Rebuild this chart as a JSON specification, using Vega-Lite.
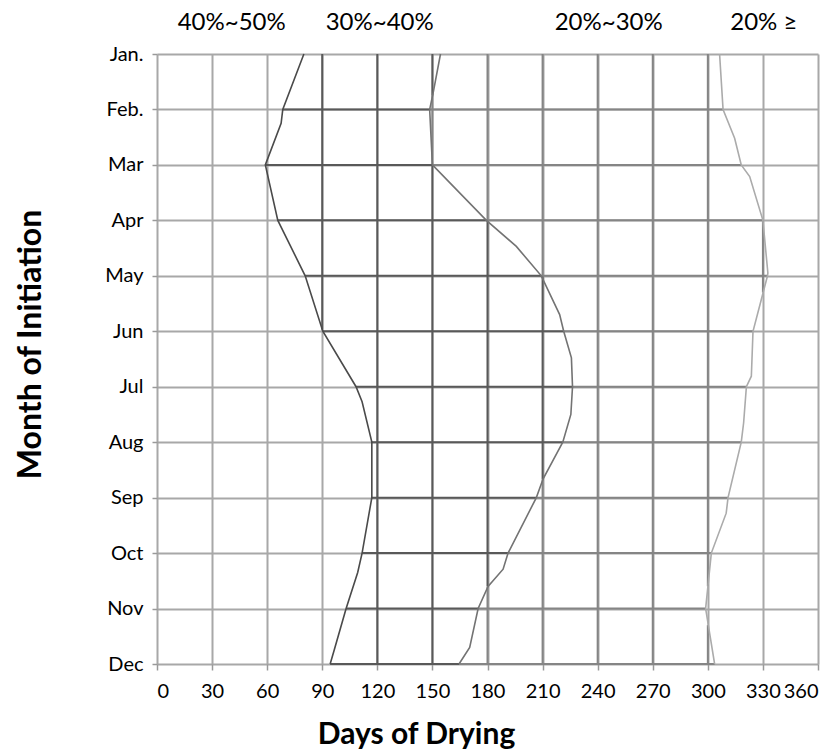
{
  "$schema": "https://vega.github.io/schema/vega-lite/v6.json",
  "width": 661,
  "height": 610,
  "autosize": {"type": "none"},
  "padding": {"left": 157, "top": 54, "right": 22, "bottom": 91},
  "background": "white",
  "config": {
    "view": {"stroke": null},
    "font": "Lato",
    "axis": {
      "gridColor": "#a8a8a8",
      "gridWidth": 2,
      "domain": false,
      "tickColor": "#999999",
      "tickWidth": 1.5,
      "labelColor": "#000000",
      "titleColor": "#000000",
      "labelFont": "Lato",
      "titleFont": "Lato",
      "labelFontSize": 20,
      "labelFontWeight": "normal",
      "titleFontSize": 30,
      "titleFontWeight": "bold"
    }
  },
  "resolve": {"scale": {"stroke": "independent"}},
  "datasets": {
    "curves": [
      {"series": "A", "m": 1, "d": 80},
      {"series": "A", "m": 2, "d": 68.5},
      {"series": "A", "m": 2.25, "d": 67.6},
      {"series": "A", "m": 3, "d": 59},
      {"series": "A", "m": 4, "d": 65.8},
      {"series": "A", "m": 5, "d": 80.7},
      {"series": "A", "m": 6, "d": 90.3},
      {"series": "A", "m": 7, "d": 108.4},
      {"series": "A", "m": 7.27, "d": 111.7},
      {"series": "A", "m": 8, "d": 117},
      {"series": "A", "m": 9, "d": 117},
      {"series": "A", "m": 10, "d": 111.7},
      {"series": "A", "m": 10.35, "d": 109.3},
      {"series": "A", "m": 11, "d": 103},
      {"series": "A", "m": 11.74, "d": 96.6},
      {"series": "A", "m": 12, "d": 94.3},
      {"series": "B", "m": 1, "d": 154.4},
      {"series": "B", "m": 1.7, "d": 150.4},
      {"series": "B", "m": 2, "d": 148.5},
      {"series": "B", "m": 3, "d": 150},
      {"series": "B", "m": 4, "d": 179.4},
      {"series": "B", "m": 4.47, "d": 195.7},
      {"series": "B", "m": 5, "d": 209.3},
      {"series": "B", "m": 5.7, "d": 219.3},
      {"series": "B", "m": 6, "d": 221.5},
      {"series": "B", "m": 6.48, "d": 225.7},
      {"series": "B", "m": 7, "d": 226.3},
      {"series": "B", "m": 7.5, "d": 225.4},
      {"series": "B", "m": 8, "d": 221},
      {"series": "B", "m": 8.66, "d": 210.3},
      {"series": "B", "m": 9, "d": 206.6},
      {"series": "B", "m": 10, "d": 191.2},
      {"series": "B", "m": 10.29, "d": 188.5},
      {"series": "B", "m": 10.6, "d": 180.3},
      {"series": "B", "m": 11, "d": 174.9},
      {"series": "B", "m": 11.7, "d": 170.3},
      {"series": "B", "m": 12, "d": 164.5},
      {"series": "C", "m": 1, "d": 306.4},
      {"series": "C", "m": 2, "d": 308.3},
      {"series": "C", "m": 2.52, "d": 314.6},
      {"series": "C", "m": 3, "d": 318.2},
      {"series": "C", "m": 3.21, "d": 322.8},
      {"series": "C", "m": 4, "d": 330},
      {"series": "C", "m": 4.95, "d": 332.7},
      {"series": "C", "m": 5, "d": 332.5},
      {"series": "C", "m": 6, "d": 324.6},
      {"series": "C", "m": 6.81, "d": 323.7},
      {"series": "C", "m": 7, "d": 321},
      {"series": "C", "m": 7.65, "d": 319.5},
      {"series": "C", "m": 8, "d": 318.2},
      {"series": "C", "m": 9, "d": 311},
      {"series": "C", "m": 9.28, "d": 310},
      {"series": "C", "m": 10, "d": 301.9},
      {"series": "C", "m": 11, "d": 298.8},
      {"series": "C", "m": 12, "d": 303.7}
    ],
    "vgrid": [
      {"d": 90, "m1": 1, "m2": 5.97, "tone": "dark"},
      {"d": 120, "m1": 1, "m2": 12, "tone": "dark"},
      {"d": 150, "m1": 1, "m2": 1.75, "tone": "dark"},
      {"d": 150, "m1": 1.75, "m2": 3, "tone": "mid"},
      {"d": 150, "m1": 3, "m2": 12, "tone": "dark"},
      {"d": 180, "m1": 1, "m2": 4, "tone": "mid"},
      {"d": 180, "m1": 4, "m2": 10.6, "tone": "dark"},
      {"d": 180, "m1": 10.6, "m2": 12, "tone": "mid"},
      {"d": 210, "m1": 1, "m2": 5, "tone": "mid"},
      {"d": 210, "m1": 5, "m2": 8.67, "tone": "dark"},
      {"d": 210, "m1": 8.67, "m2": 12, "tone": "mid"},
      {"d": 240, "m1": 1, "m2": 12, "tone": "mid"},
      {"d": 270, "m1": 1, "m2": 12, "tone": "mid"},
      {"d": 300, "m1": 1, "m2": 10.6, "tone": "mid"},
      {"d": 300, "m1": 11.3, "m2": 12, "tone": "mid"},
      {"d": 330, "m1": 4, "m2": 5.3, "tone": "mid"}
    ],
    "labels": [
      {"t": "40%~50%", "d": 40.7, "m": 1},
      {"t": "30%~40%", "d": 121.3, "m": 1},
      {"t": "20%~30%", "d": 246, "m": 1},
      {"t": "20% ≥", "d": 330.5, "m": 1}
    ]
  },
  "layer": [
    {
      "data": {"name": "vgrid"},
      "mark": {"type": "rule", "strokeWidth": 2},
      "encoding": {
        "x": {
          "field": "d", "type": "quantitative",
          "scale": {"domain": [0, 360], "nice": false, "zero": false},
          "axis": {
            "values": [0, 30, 60, 90, 120, 150, 180, 210, 240, 270, 300, 330, 360],
            "title": "Days of Drying",
            "tickSize": 6,
            "labelPadding": 11,
            "titleX": 259,
            "titleY": 70,
            "titleAlign": "center",
            "titleBaseline": "middle"
          }
        },
        "y": {
          "field": "m1", "type": "quantitative",
          "scale": {"domain": [1, 12], "nice": false, "zero": false, "reverse": true},
          "axis": {
            "values": [1, 2, 3, 4, 5, 6, 7, 8, 9, 10, 11, 12],
            "labelExpr": "['', 'Jan.', 'Feb.', 'Mar', 'Apr', 'May', 'Jun', 'Jul', 'Aug', 'Sep', 'Oct', 'Nov', 'Dec'][datum.value]",
            "title": "Month of Initiation",
            "titleFontSize": 32,
            "tickSize": 5,
            "labelPadding": 9,
            "titleX": -127,
            "titleY": 290,
            "titleAngle": -90,
            "titleAlign": "center",
            "titleBaseline": "middle"
          }
        },
        "y2": {"field": "m2"},
        "stroke": {
          "field": "tone", "type": "nominal",
          "scale": {"domain": ["dark", "mid"], "range": ["#595959", "#858585"]},
          "legend": null
        }
      }
    },
    {
      "data": {"name": "curves"},
      "transform": [
        {"filter": "datum.m == floor(datum.m) && datum.m > 1"},
        {"pivot": "series", "value": "d", "groupby": ["m"]}
      ],
      "mark": {"type": "rule", "strokeWidth": 2, "color": "#595959"},
      "encoding": {
        "y": {"field": "m", "type": "quantitative"},
        "x": {"field": "A", "type": "quantitative"},
        "x2": {"field": "B"}
      }
    },
    {
      "data": {"name": "curves"},
      "transform": [
        {"filter": "datum.m == floor(datum.m) && datum.m > 1"},
        {"pivot": "series", "value": "d", "groupby": ["m"]}
      ],
      "mark": {"type": "rule", "strokeWidth": 2, "color": "#858585"},
      "encoding": {
        "y": {"field": "m", "type": "quantitative"},
        "x": {"field": "B", "type": "quantitative"},
        "x2": {"field": "C"}
      }
    },
    {
      "data": {"name": "curves"},
      "mark": {"type": "line", "strokeWidth": 1.6},
      "encoding": {
        "x": {"field": "d", "type": "quantitative"},
        "y": {"field": "m", "type": "quantitative"},
        "order": {"field": "m", "type": "quantitative"},
        "detail": {"field": "series", "type": "nominal"},
        "stroke": {
          "field": "series", "type": "nominal",
          "scale": {"domain": ["A", "B", "C"], "range": ["#4a4a4a", "#737373", "#ababab"]},
          "legend": null
        }
      }
    },
    {
      "data": {"name": "labels"},
      "mark": {"type": "text", "fontSize": 24, "font": "Lato", "dy": -31, "color": "#000000", "baseline": "middle", "align": "center"},
      "encoding": {
        "x": {"field": "d", "type": "quantitative"},
        "y": {"field": "m", "type": "quantitative"},
        "text": {"field": "t"}
      }
    }
  ]
}
